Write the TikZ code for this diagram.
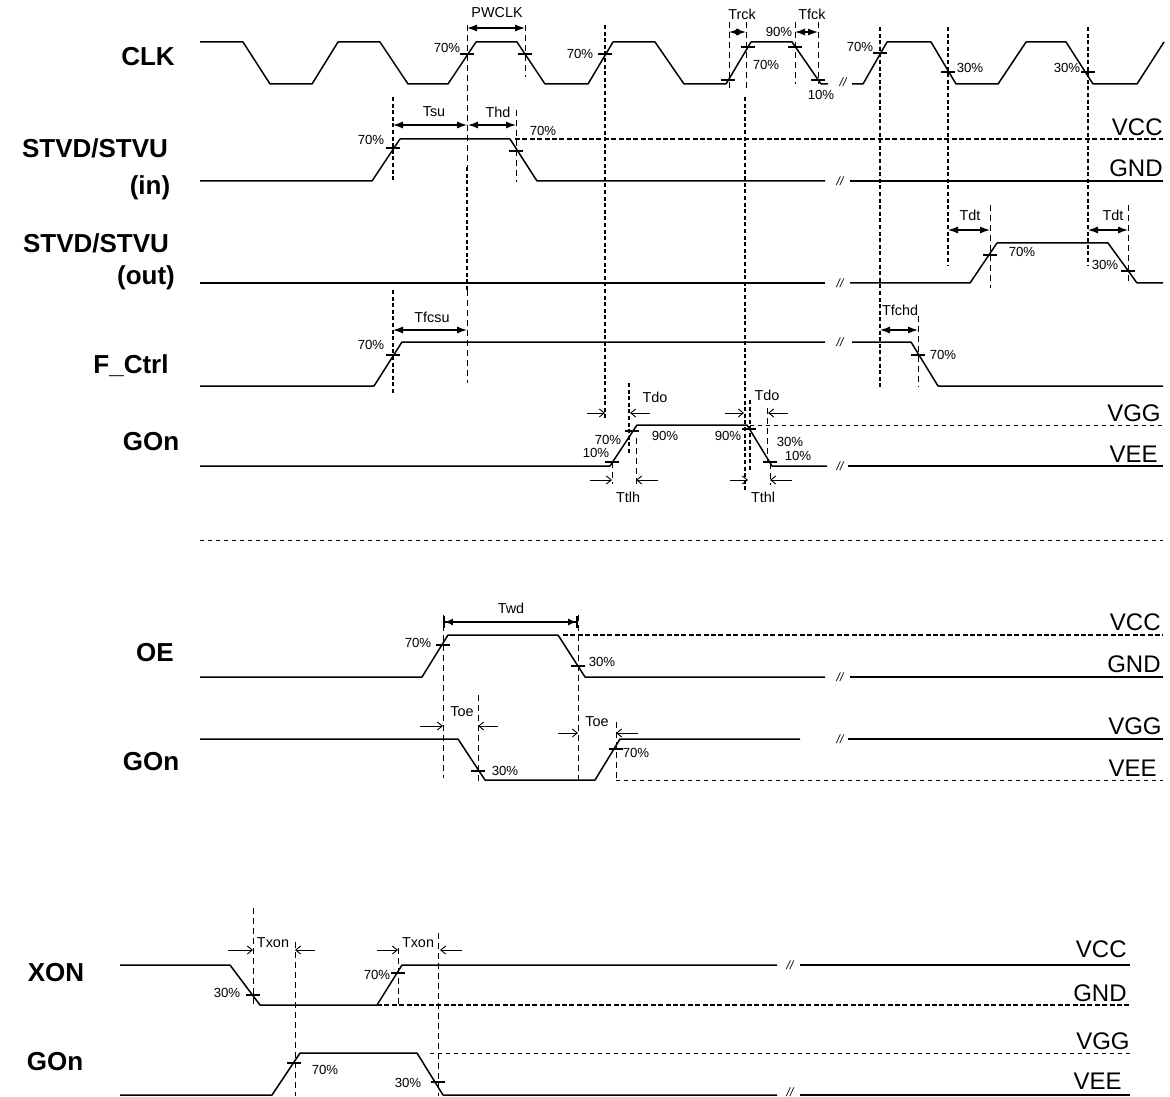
\documentclass[tikz,border=0pt]{standalone}
\usepackage{fontspec}
\setmainfont{Liberation Sans}
\usetikzlibrary{arrows.meta}
\begin{document}
\begin{tikzpicture}[x=0.5pt,y=-0.5pt,
  sig/.style={line width=0.75pt,line join=round},
  gd/.style={line width=1.3pt,dash pattern=on 2pt off 1.3pt},
  td/.style={line width=0.45pt,dash pattern=on 3pt off 2pt},
  rail/.style={line width=1.2pt,dash pattern=on 2.5pt off 1.2pt},
  drail/.style={line width=0.5pt,dash pattern=on 2pt off 2pt},
  dim/.style={line width=0.6pt,{Latex[length=5pt,width=3.5pt]}-{Latex[length=5pt,width=3.5pt]}},
  pa/.style={line width=0.45pt,-{Straight Barb[length=2.5pt,width=4pt]}},
  tk/.style={line width=0.6pt},
  lab/.style={font=\fontsize{13}{15}\selectfont\bfseries,inner sep=0pt},
  rl/.style={font=\fontsize{12}{14}\selectfont,inner sep=0pt,anchor=base east},
  pc/.style={font=\fontsize{6.6}{7.5}\selectfont,inner sep=0pt},
  tl/.style={font=\fontsize{7.2}{8.5}\selectfont,inner sep=0pt},
  brk/.style={font=\fontsize{6}{6}\selectfont\itshape,inner sep=0pt},
]
\useasboundingbox (0,0) rectangle (1170,1096);

% ---------------- left labels
\node[lab] (lclk) at (148,57) {CLK};
\node[lab] (lstin) at (95,148) {STVD/STVU};
\node[lab] (lin) at (150,188) {(in)};
\node[lab] (lstout) at (96,243) {STVD/STVU};
\node[lab] (lout) at (146,278) {(out)};
\node[lab] (lfc) at (131,366) {F\_Ctrl};
\node[lab] (lgon1) at (151,442) {GOn};
\node[lab] (loe) at (155,653) {OE};
\node[lab] (lgon2) at (151,762) {GOn};
\node[lab] (lxon) at (56,973) {XON};
\node[lab] (lgon3) at (55,1062) {GOn};

% ---------------- right labels
\node[rl] (r1) at (1163,136) {VCC};
\node[rl] (r2) at (1163,177) {GND};
\node[rl] (r3) at (1161,421) {VGG};
\node[rl] (r4) at (1158,462) {VEE};
\node[rl] (r5) at (1161,630) {VCC};
\node[rl] (r6) at (1161,672) {GND};
\node[rl] (r7) at (1162,734) {VGG};
\node[rl] (r8) at (1157,776) {VEE};
\node[rl] (r9) at (1127,957) {VCC};
\node[rl] (r10) at (1127,1001) {GND};
\node[rl] (r11) at (1130,1049) {VGG};
\node[rl] (r12) at (1122,1089) {VEE};

% ---------------- vertical reference lines
\draw[gd] (605,25) -- (605,420);
\draw[gd] (393,97) -- (393,182);
\draw[gd] (393,290) -- (393,395);
\draw[td] (467,25) -- (467,167);
\draw[gd] (467,167) -- (467,290);
\draw[td] (467,290) -- (467,383);
\draw[gd] (745,97) -- (745,490);
\draw[gd] (750,400) -- (750,470);
\draw[gd] (880,27) -- (880,387);
\draw[gd] (948,27) -- (948,265);
\draw[gd] (1088,27) -- (1088,265);
\draw[gd] (629,383) -- (629,455);

% ---------------- CLK
\draw[sig] (200,42) -- (243,42) -- (270,84) -- (312,84) -- (338,42) -- (380,42) -- (408,84) -- (448,84) -- (476,42) -- (517,42) -- (545,84) -- (588,84) -- (613,42) -- (655,42) -- (684,84) -- (726,84) -- (751,42) -- (792,42) -- (821,84) -- (828,84);
\node[brk] (bclk) at (843,82) {//};
\draw[sig] (852,84) -- (863,84) -- (887,42) -- (931,42) -- (956,84) -- (998,84) -- (1026,42) -- (1066,42) -- (1093,84) -- (1137,84) -- (1164,42);
\draw[td] (525,25) -- (525,77);
\draw[dim] (467,28) -- (525,28);
\node[tl] (tpw) at (497,13) {PWCLK};
\draw[tk] (467,54) ++(-7,0) -- ++(14,0);
\draw[tk] (525,54) ++(-7,0) -- ++(14,0);
\draw[tk] (605,54) ++(-7,0) -- ++(14,0);
\node[pc] (c1) at (447,48) {70\%};
\node[pc] (c2) at (580,54) {70\%};
% Trck / Tfck
\draw[td] (729,22) -- (729,88);
\draw[td] (746,22) -- (746,88);
\draw[td] (795,22) -- (795,84);
\draw[td] (818,22) -- (818,84);
\draw[dim] (729,32) -- (746,32);
\draw[dim] (795,32) -- (818,32);
\node[tl] (ttr) at (742,14) {Trck};
\node[tl] (ttf) at (812,14) {Tfck};
\draw[tk] (729,80) ++(-8,0) -- ++(14,0);
\draw[tk] (748,47) ++(-7,0) -- ++(14,0);
\draw[tk] (795,47) ++(-7,0) -- ++(14,0);
\draw[tk] (817,80) ++(-6,0) -- ++(14,0);
\node[pc] (c3) at (779,32) {90\%};
\node[pc] (c4) at (766,65) {70\%};
\node[pc] (c5) at (821,95) {10\%};
\draw[tk] (880,53) ++(-7,0) -- ++(14,0);
\draw[tk] (948,72) ++(-7,0) -- ++(14,0);
\draw[tk] (1088,72) ++(-7,0) -- ++(14,0);
\node[pc] (c6) at (860,47) {70\%};
\node[pc] (c7) at (970,68) {30\%};
\node[pc] (c8) at (1067,68) {30\%};

% ---------------- STVD/STVU (in)
\draw[sig] (200,181) -- (372,181) -- (400,139) -- (510,139) -- (537,181) -- (825,181);
\node[brk] (bin) at (840,181) {//};
\draw[sig] (850,181) -- (1163,181);
\draw[rail] (515,139) -- (1163,139);
\draw[tk] (393,148) ++(-7,0) -- ++(14,0);
\draw[tk] (516,151) ++(-7,0) -- ++(14,0);
\node[pc] (s1) at (371,140) {70\%};
\node[pc] (s2) at (543,131) {70\%};
\draw[td] (516,110) -- (516,182);
\draw[dim] (393,125) -- (467,125);
\draw[dim] (468,125) -- (516,125);
\node[tl] (tsu) at (434,112) {Tsu};
\node[tl] (thd) at (498,112) {Thd};

% ---------------- STVD/STVU (out)
\draw[sig] (200,283) -- (825,283);
\node[brk] (bout) at (840,283) {//};
\draw[sig] (850,283) -- (970,283) -- (997,243) -- (1108,243) -- (1137,283) -- (1163,283);
\draw[tk] (990,255) ++(-7,0) -- ++(14,0);
\draw[tk] (1128,271) ++(-7,0) -- ++(14,0);
\node[pc] (o1) at (1022,252) {70\%};
\node[pc] (o2) at (1105,265) {30\%};
\draw[td] (990,205) -- (990,288);
\draw[td] (1128,205) -- (1128,283);
\draw[dim] (948,230) -- (990,230);
\draw[dim] (1088,230) -- (1128,230);
\node[tl] (tdt1) at (970,215) {Tdt};
\node[tl] (tdt2) at (1113,215) {Tdt};

% ---------------- F_Ctrl
\draw[sig] (200,386) -- (374,386) -- (402,342) -- (825,342);
\node[brk] (bfc) at (840,342) {//};
\draw[sig] (852,342) -- (911,342) -- (938,386) -- (1163,386);
\draw[tk] (393,355) ++(-7,0) -- ++(14,0);
\draw[tk] (918,355) ++(-7,0) -- ++(14,0);
\node[pc] (f1) at (371,345) {70\%};
\node[pc] (f2) at (943,355) {70\%};
\draw[td] (918,316) -- (918,387);
\draw[dim] (393,330) -- (467,330);
\draw[dim] (880,330) -- (918,330);
\node[tl] (tfcsu) at (432,317) {Tfcsu};
\node[tl] (tfchd) at (900,310) {Tfchd};

% ---------------- GOn (1)
\draw[sig] (200,466) -- (610,466) -- (637,425) -- (747,425) -- (772,466) -- (827,466);
\node[brk] (bg1) at (840,466) {//};
\draw[sig] (848,466) -- (1163,466);
\draw[drail] (750,425) -- (1163,425);
\draw[tk] (612,462) ++(-7,0) -- ++(14,0);
\draw[tk] (632,431) ++(-7,0) -- ++(14,0);
\draw[tk] (749,429) ++(-7,0) -- ++(14,0);
\draw[tk] (770,462) ++(-7,0) -- ++(14,0);
\node[pc] (g1) at (608,440) {70\%};
\node[pc] (g2) at (596,453) {10\%};
\node[pc] (g3) at (665,436) {90\%};
\node[pc] (g4) at (728,436) {90\%};
\node[pc] (g5) at (790,442) {30\%};
\node[pc] (g6) at (798,456) {10\%};
\draw[td] (636,438) -- (636,484);
\draw[td] (612,462) -- (612,484);
\draw[td] (767,408) -- (767,463);
\draw[td] (770,463) -- (770,485);
\draw[pa] (587,413) -- (605,413);
\draw[pa] (650,413) -- (630,413);
\draw[pa] (725,413) -- (744,413);
\draw[pa] (788,413) -- (768,413);
\draw[pa] (590,480) -- (612,480);
\draw[pa] (658,480) -- (636,480);
\draw[pa] (730,480) -- (748,480);
\draw[pa] (792,480) -- (770,480);
\node[tl] (tdo1) at (655,397) {Tdo};
\node[tl] (tdo2) at (767,395) {Tdo};
\node[tl] (ttlh) at (628,497) {Ttlh};
\node[tl] (tthl) at (763,497) {Tthl};

% ---------------- separator
\draw[drail] (200,540) -- (1163,540);

% ---------------- OE
\draw[sig] (200,677) -- (422,677) -- (448,635) -- (558,635) -- (585,677) -- (825,677);
\node[brk] (boe) at (840,677) {//};
\draw[sig] (850,677) -- (1163,677);
\draw[rail] (563,635) -- (1163,635);
\draw[tk] (443,645) ++(-7,0) -- ++(14,0);
\draw[tk] (578,666) ++(-7,0) -- ++(14,0);
\node[pc] (e1) at (418,643) {70\%};
\node[pc] (e2) at (602,662) {30\%};
\draw[td] (443,615) -- (443,778);
\draw[td] (578,615) -- (578,782);
\draw[line width=0.9pt,{Bar[width=6pt]Latex[length=4pt,width=3.5pt]}-{Latex[length=4pt,width=3.5pt]Bar[width=6pt]}] (443,622) -- (578,622);
\node[tl] (twd) at (511,608) {Twd};

% ---------------- GOn (2)
\draw[sig] (200,739) -- (458,739) -- (485,780) -- (595,780) -- (620,739) -- (800,739);
\node[brk] (bg2) at (840,739) {//};
\draw[sig] (848,739) -- (1163,739);
\draw[drail] (616,780) -- (1163,780);
\draw[tk] (478,771) ++(-7,0) -- ++(14,0);
\draw[tk] (616,749) ++(-7,0) -- ++(14,0);
\node[pc] (h1) at (505,771) {30\%};
\node[pc] (h2) at (636,753) {70\%};
\draw[td] (478,695) -- (478,782);
\draw[td] (616,722) -- (616,780);
\draw[pa] (420,726) -- (443,726);
\draw[pa] (498,726) -- (478,726);
\draw[pa] (558,733) -- (578,733);
\draw[pa] (638,733) -- (616,733);
\node[tl] (toe1) at (462,712) {Toe};
\node[tl] (toe2) at (597,722) {Toe};

% ---------------- XON
\draw[sig] (120,965) -- (230,965) -- (260,1005) -- (377,1005) -- (402,965) -- (777,965);
\node[brk] (bx) at (790,965) {//};
\draw[sig] (800,965) -- (1130,965);
\draw[rail] (377,1005) -- (1130,1005);
\draw[tk] (253,995) ++(-7,0) -- ++(14,0);
\draw[tk] (398,973) ++(-7,0) -- ++(14,0);
\node[pc] (x1) at (227,993) {30\%};
\node[pc] (x2) at (377,975) {70\%};
\draw[td] (253,908) -- (253,1005);
\draw[td] (295,942) -- (295,1096);
\draw[td] (398,948) -- (398,1005);
\draw[td] (438,933) -- (438,1096);
\draw[pa] (228,950) -- (253,950);
\draw[pa] (315,950) -- (295,950);
\draw[pa] (377,950) -- (398,950);
\draw[pa] (462,950) -- (440,950);
\node[tl] (tx1) at (273,943) {Txon};
\node[tl] (tx2) at (418,943) {Txon};

% ---------------- GOn (3)
\draw[sig] (120,1095) -- (272,1095) -- (300,1053) -- (417,1053) -- (443,1095) -- (777,1095);
\node[brk] (bg3) at (790,1092) {//};
\draw[sig] (800,1095) -- (1130,1095);
\draw[drail] (430,1053) -- (1130,1053);
\draw[tk] (294,1063) ++(-7,0) -- ++(14,0);
\draw[tk] (438,1082) ++(-7,0) -- ++(14,0);
\node[pc] (y1) at (325,1070) {70\%};
\node[pc] (y2) at (408,1083) {30\%};
\end{tikzpicture}
\end{document}
